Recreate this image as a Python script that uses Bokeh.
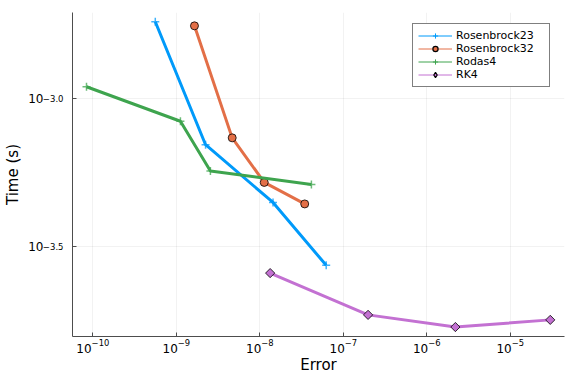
import numpy as np
from bokeh.plotting import figure
from bokeh.models import (FixedTicker, CustomJSTickFormatter, LogTickFormatter, Legend,
                          LegendItem, ColumnDataSource, Range1d, LogAxis)
from bokeh.embed import file_html
from bokeh.resources import INLINE

# ---- data ----
series_names = ["Rosenbrock23", "Rosenbrock32", "Rodas4", "RK4"]

err_rosenbrock23 = [5.6e-10, 2.24e-9, 1.44e-8, 6.24e-8]
time_rosenbrock23 = [1.811e-3, 6.98e-4, 4.46e-4, 2.74e-4]

err_rosenbrock32 = [1.65e-9, 4.67e-9, 1.13e-8, 3.45e-8]
time_rosenbrock32 = [1.754e-3, 7.36e-4, 5.21e-4, 4.41e-4]

err_rodas4 = [8.4e-11, 1.12e-9, 2.56e-9, 4.15e-8]
time_rodas4 = [1.094e-3, 8.37e-4, 5.69e-4, 5.13e-4]

err_rk4 = [1.33e-8, 1.98e-7, 2.20e-6, 3.01e-5]
time_rk4 = [2.58e-4, 1.866e-4, 1.698e-4, 1.795e-4]

x_tick_values = [1e-10, 1e-9, 1e-8, 1e-7, 1e-6, 1e-5]
y_tick_values = [10 ** -3.5, 10 ** -3.0]

x_label = "Error"
y_label = "Time (s)"

colors = ["#009AFA", "#E36F47", "#3EA44E", "#C371D2"]
FONT = "DejaVu Sans"
AXIS_COLOR = "#4d4d4d"

x_lo, x_hi = 5.71e-11, 4.46e-5
y_lo, y_hi = 1.578e-4, 1.945e-3

p = figure(width=568, height=376, x_axis_type="log", y_axis_type="log",
           x_range=Range1d(x_lo, x_hi), y_range=Range1d(y_lo, y_hi),
           output_backend="svg", toolbar_location=None,
           min_border_left=72, min_border_right=4, min_border_top=12, min_border_bottom=39)
p.outline_line_color = None
p.background_fill_color = "white"

# ---- x axis: native log formatter (10 with superscript exponent) ----
xa = p.xaxis[0]
xa.ticker = FixedTicker(ticks=x_tick_values, minor_ticks=[])
xa.formatter = LogTickFormatter()
xa.major_label_text_font = FONT
xa.major_label_text_font_size = "12px"
xa.major_label_text_color = "black"
xa.major_label_standoff = 2
xa.axis_label = x_label
xa.axis_label_standoff = 0

# ---- y axis: inner axis carries exponents, outer axis carries the base "10" ----
ya = p.yaxis[0]
ya.ticker = FixedTicker(ticks=y_tick_values, minor_ticks=[])
ya.formatter = CustomJSTickFormatter(
    code="return '\\u2212' + Math.abs(Math.log10(tick)).toFixed(1);")
ya.major_label_text_font = FONT
ya.major_label_text_font_size = "8.5px"
ya.major_label_text_color = "black"
ya.major_label_text_align = "right"
ya.major_label_text_baseline = "alphabetic"
ya.major_label_standoff = 9

ya_base = LogAxis(ticker=FixedTicker(ticks=y_tick_values, minor_ticks=[]),
                  formatter=CustomJSTickFormatter(code="return '10';"))
ya_base.axis_line_color = None
ya_base.major_tick_line_color = None
ya_base.minor_tick_line_color = None
ya_base.major_tick_in = 0
ya_base.major_tick_out = 0
ya_base.major_label_text_font = FONT
ya_base.major_label_text_font_size = "12px"
ya_base.major_label_text_color = "black"
ya_base.major_label_text_align = "right"
ya_base.major_label_text_baseline = "top"
ya_base.major_label_standoff = -4
ya_base.axis_label = y_label
ya_base.axis_label_standoff = 3
p.add_layout(ya_base, "left")

for ax in (xa, ya):
    ax.axis_line_color = AXIS_COLOR
    ax.axis_line_width = 1
    ax.major_tick_in = 4
    ax.major_tick_out = 0
    ax.major_tick_line_color = AXIS_COLOR
    ax.minor_tick_line_color = None
for ax in (xa, ya_base):
    ax.axis_label_text_font = FONT
    ax.axis_label_text_font_size = "15px"
    ax.axis_label_text_font_style = "normal"
    ax.axis_label_text_color = "black"

p.xgrid.ticker = FixedTicker(ticks=x_tick_values, minor_ticks=[])
p.ygrid.ticker = FixedTicker(ticks=y_tick_values, minor_ticks=[])
for g in (p.xgrid, p.ygrid):
    g.grid_line_color = "black"
    g.grid_line_alpha = 0.1
    g.grid_line_width = 0.5

errs = [err_rosenbrock23, err_rosenbrock32, err_rodas4, err_rk4]
times = [time_rosenbrock23, time_rosenbrock32, time_rodas4, time_rk4]
markers = [
    dict(marker="cross", legend_marker="cross", size=8, lsize=10, line_width=1.5,
         fill="none", angle=0.0, stroke="same"),
    dict(marker="circle", legend_marker="circle", size=8, lsize=9.5, line_width=0.8,
         fill="same", angle=0.0, stroke="black"),
    dict(marker="cross", legend_marker="cross", size=8, lsize=10, line_width=1.5,
         fill="none", angle=0.0, stroke="same"),
    dict(marker="square", legend_marker="diamond", size=6.5, lsize=13, line_width=0.8,
         fill="same", angle=np.pi / 4, stroke="black"),
]

items = []
for name, ex, ty, c, m in zip(series_names, errs, times, colors, markers):
    src = ColumnDataSource(dict(x=ex, y=ty))
    p.line("x", "y", source=src, line_color=c, line_width=3)
    fill = c if m["fill"] == "same" else None
    stroke = c if m["stroke"] == "same" else m["stroke"]
    p.scatter("x", "y", source=src, marker=m["marker"], size=m["size"], angle=m["angle"],
              fill_color=fill, line_color=stroke, line_width=m["line_width"],
              line_alpha=0.75 if m["stroke"] == "same" else 1.0)
    # legend-only glyphs (thin line + marker); NaN data so nothing is drawn in the plot
    lsrc = ColumnDataSource(dict(x=[np.nan], y=[np.nan]))
    lr = p.line("x", "y", source=lsrc, line_color=c, line_width=1)
    sr = p.scatter("x", "y", source=lsrc, marker=m["legend_marker"], size=m["lsize"],
                   fill_color=fill, line_color=stroke,
                   line_width=1 if m["stroke"] == "same" else 1.2)
    items.append(LegendItem(label=name, renderers=[lr, sr]))

legend = Legend(items=items, location=(340, 249))
legend.label_text_font = FONT
legend.label_text_font_size = "11px"
legend.label_text_color = "black"
legend.border_line_color = "black"
legend.border_line_width = 1
legend.background_fill_color = "white"
legend.background_fill_alpha = 1.0
legend.padding = 5
legend.spacing = 0
legend.margin = 0
legend.glyph_width = 34
legend.glyph_height = 13
legend.label_height = 13
legend.label_width = 88
legend.label_standoff = 4
p.add_layout(legend, "center")

open("out.html", "w").write(file_html(p, INLINE))
